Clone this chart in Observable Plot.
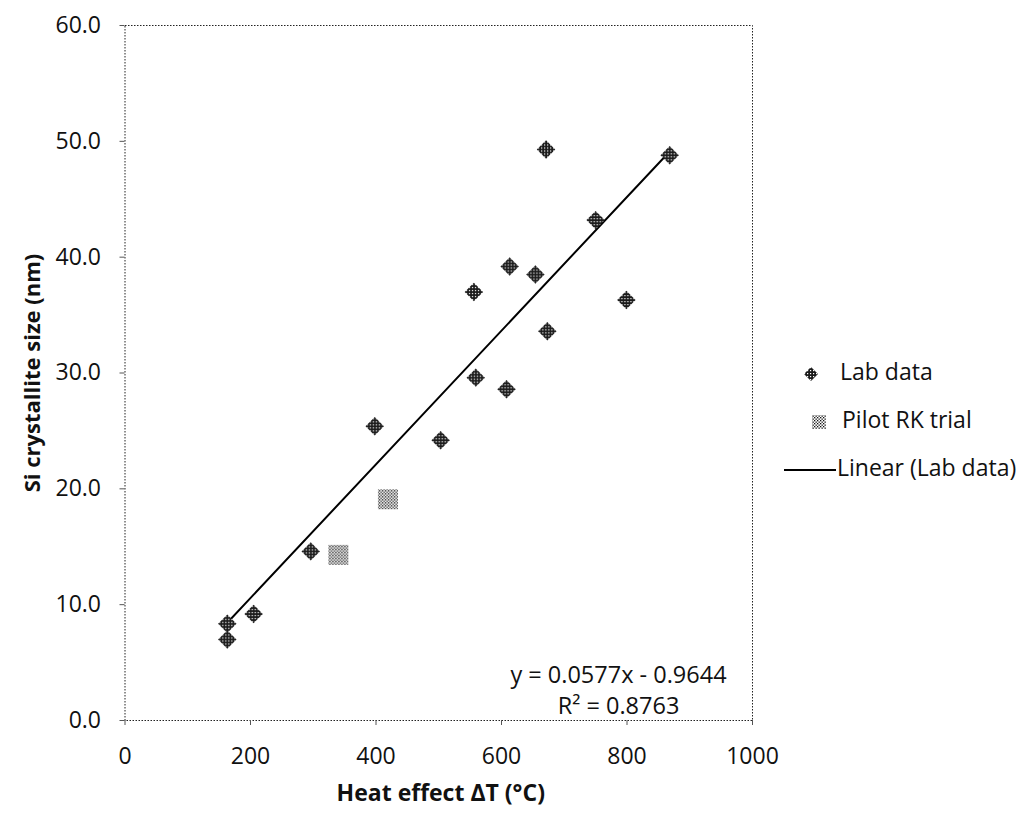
<!DOCTYPE html>
<html><head><meta charset="utf-8">
<script src="https://cdn.jsdelivr.net/npm/d3@7"></script>
<script src="https://cdn.jsdelivr.net/npm/@observablehq/plot@0.6"></script>
<style>
body{margin:0;background:#fff;font-family:"Open Sans",sans-serif;color:#111;}
#wrap{position:relative;width:1034px;height:818px;}
.leg{position:absolute;font-size:23px;line-height:1;white-space:nowrap;}
.leg svg{position:absolute;}
</style></head><body>
<svg width="0" height="0" style="position:absolute">
  <defs>
    <pattern id="labPat" patternUnits="userSpaceOnUse" width="3" height="3">
      <rect width="3" height="3" fill="#1a1a1a"/>
      <rect x="1" y="1" width="1.2" height="1.2" fill="#fff"/>
    </pattern>
    <pattern id="pilotPat" patternUnits="userSpaceOnUse" width="3" height="3">
      <rect width="3" height="3" fill="#fff"/>
      <rect x="0" y="0" width="1.3" height="1.3" fill="#111"/>
      <rect x="1.5" y="1.5" width="1.3" height="1.3" fill="#111"/>
    </pattern>
  </defs>
</svg>
<div id="wrap"></div>
<script>
const labX = [163,163,205,296,398,503,556,559,608,613,654,671,673,750,799,868];
const labY = [8.35,7.0,9.2,14.6,25.4,24.2,37.0,29.6,28.6,39.2,38.5,49.3,33.6,43.2,36.3,48.8];
const pilotX = [340,419];
const pilotY = [14.3,19.1];
const slope = 0.0577, intercept = -0.9644, r2 = 0.8763;
const xTicks = [0,200,400,600,800,1000];
const yTicks = [0,10,20,30,40,50,60];
const xTitle = "Heat effect ΔT (°C)";
const yTitle = "Si crystallite size (nm)";
const seriesNames = ["Lab data", "Pilot RK trial", "Linear (Lab data)"];

const lab = labX.map((x,i)=>({x, y:labY[i]}));
const pilot = pilotX.map((x,i)=>({x, y:pilotY[i]}));
const xr = d3.extent(labX);
const trend = xr.map(x=>({x, y: slope*x + intercept}));
const eqText = `y = ${slope}x - ${Math.abs(intercept)}\nR² = ${r2}`;

const chart = Plot.plot({
  width: 1034, height: 818,
  marginLeft: 124.5, marginRight: 282, marginTop: 25, marginBottom: 98,
  style: {fontFamily: "Open Sans", fontSize: "23px", color: "#111", background: "#fff"},
  x: {domain: [0,1000], label: null},
  y: {domain: [0,60], label: null},
  marks: [
    Plot.frame({stroke: "#222", strokeDasharray: "1.5,1.5"}),
    Plot.axisX({ticks: xTicks, tickSize: 5, tickPadding: 22, fontSize: 23, tickFormat: d=>String(d), stroke: "#555", label: null}),
    Plot.axisY({ticks: yTicks, tickSize: 5, tickPadding: 19, fontSize: 23, tickFormat: d=>d.toFixed(1), stroke: "#555", label: null}),
    Plot.line(trend, {x: "x", y: "y", stroke: "#000", strokeWidth: 2}),
    Plot.dot(lab, {x: "x", y: "y", symbol: "diamond2", r: 8.3, fill: "url(#labPat)", stroke: "none"}),
    Plot.dot(pilot, {x: "x", y: "y", symbol: "square", r: 11.28, fill: "url(#pilotPat)", stroke: "none"}),
    Plot.text([eqText], {text: d=>d, frameAnchor: "bottom-right", dx: -134, dy: -32, textAnchor: "middle", lineAnchor: "middle", lineHeight: 1.3, fontSize: 23.5, fill: "#111"}),
    Plot.text([xTitle], {text: d=>d, frameAnchor: "bottom", dx: 2, dy: 73, textAnchor: "middle", lineAnchor: "middle", fontWeight: "bold", fontSize: 23, fill: "#111"}),
    Plot.text([yTitle], {text: d=>d, frameAnchor: "left", dx: -92, dy: 0, rotate: -90, textAnchor: "middle", lineAnchor: "middle", fontWeight: "bold", fontSize: 22, fill: "#111"})
  ]
});
const wrap = document.getElementById("wrap");
wrap.appendChild(chart);

// legend
const items = [
  {name: seriesNames[0], top: 374, sw: `<svg width="16" height="16" style="left:-37px;top:-8px"><path d="M8,1L15,8L8,15L1,8Z" fill="url(#labPat)"/></svg>`},
  {name: seriesNames[1], top: 422, sw: `<svg width="16" height="16" style="left:-31px;top:-8px"><rect x="1" y="1" width="14" height="14" fill="url(#pilotPat)"/></svg>`},
  {name: seriesNames[2], top: 470, sw: `<svg width="52" height="4" style="left:-53px;top:-2px"><line x1="0" y1="2" x2="52" y2="2" stroke="#000" stroke-width="2"/></svg>`}
];
const lefts = [840, 842, 837];
items.forEach((it,i)=>{
  const d = document.createElement("div");
  d.className = "leg";
  d.style.left = lefts[i] + "px";
  d.style.top = it.top + "px";
  d.innerHTML = it.sw + `<span style="position:relative;top:-0.6em">${it.name}</span>`;
  wrap.appendChild(d);
});
</script>
</body></html>
